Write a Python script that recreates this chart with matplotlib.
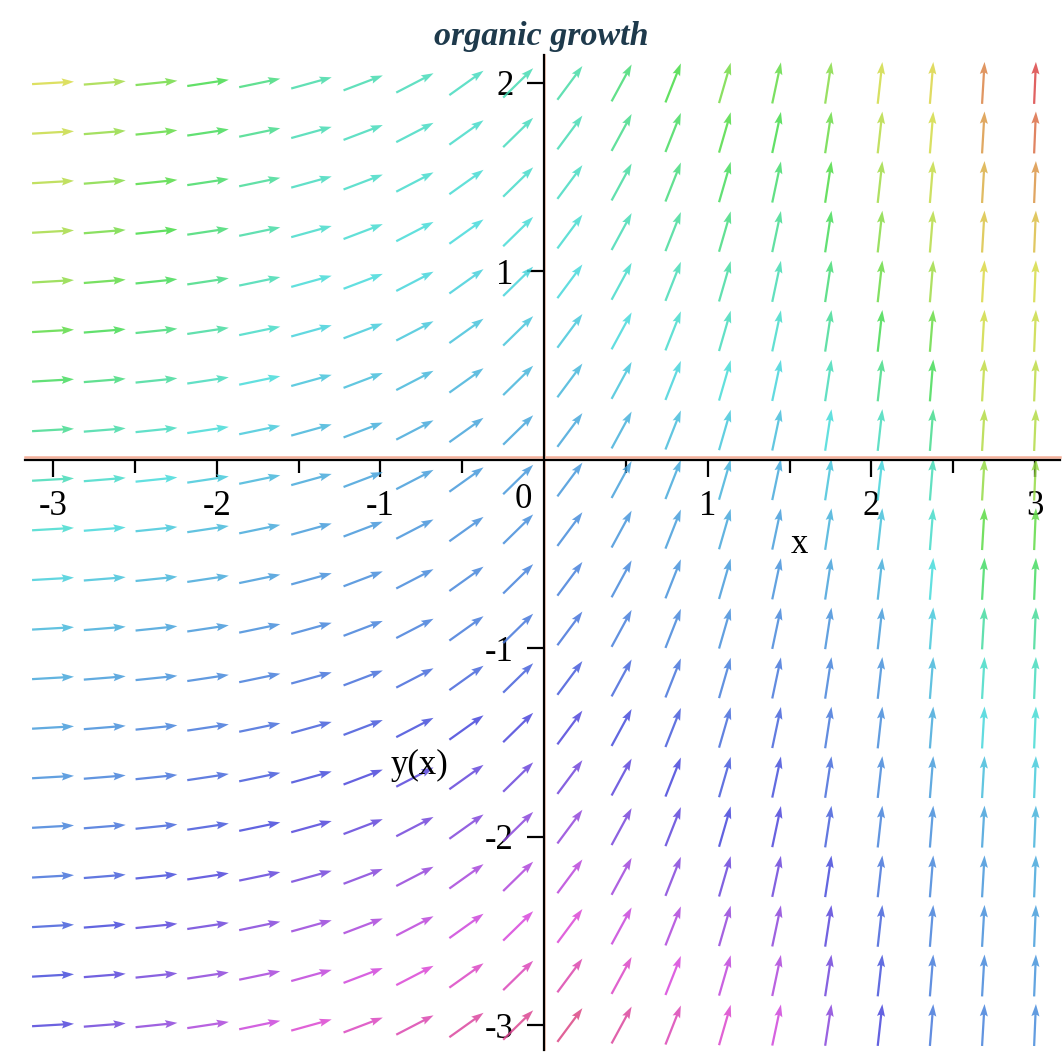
import numpy as np
import matplotlib
matplotlib.use('Agg')
from matplotlib import pyplot as plt
from matplotlib.colors import hsv_to_rgb

# direction field grid (20 x 20, as in the Maple plot)
x_vals = [-3.0, -2.684, -2.368, -2.053, -1.737, -1.421, -1.105, -0.789, -0.474, -0.158,
          0.158, 0.474, 0.789, 1.105, 1.421, 1.737, 2.053, 2.368, 2.684, 3.0]
y_vals = [-3.0, -2.737, -2.474, -2.211, -1.947, -1.684, -1.421, -1.158, -0.895, -0.632,
          -0.368, -0.105, 0.158, 0.421, 0.684, 0.947, 1.211, 1.474, 1.737, 2.0]
# slope dy/dx read per column (same for every row)
slopes = [0.05, 0.07, 0.09, 0.13, 0.18, 0.24, 0.33, 0.45, 0.62, 0.85,
          1.17, 1.6, 2.2, 3.0, 4.1, 5.7, 7.8, 10.7, 14.6, 20.1]

# hue read at a few anchor points (columns x rows y = 2, 1, 0, -1, -2, -3)
hue_cols = [-3.0, -1.5, -0.5, 0.16, 1.1, 1.42, 1.74, 2.05, 2.37, 2.68, 3.0]
hue_rows = [2, 1, 0, -1, -2, -3]
hue_table = [
    [0.17, 0.24, 0.45, 0.55, 0.60, 0.68],
    [0.44, 0.49, 0.55, 0.60, 0.68, 0.84],
    [0.47, 0.51, 0.57, 0.61, 0.74, 0.90],
    [0.44, 0.50, 0.57, 0.62, 0.76, 0.93],
    [0.28, 0.43, 0.54, 0.59, 0.67, 0.85],
    [0.30, 0.45, 0.55, 0.60, 0.68, 0.82],
    [0.26, 0.38, 0.52, 0.59, 0.64, 0.74],
    [0.18, 0.28, 0.50, 0.58, 0.60, 0.67],
    [0.16, 0.22, 0.45, 0.53, 0.59, 0.61],
    [0.07, 0.16, 0.22, 0.46, 0.57, 0.60],
    [0.00, 0.17, 0.22, 0.45, 0.55, 0.59],
]

x_ticks = [-3, -2, -1, 1, 2, 3]
y_ticks = [-3, -2, -1, 1, 2]

plt.rcParams['font.family'] = ['Liberation Serif', 'DejaVu Serif']
plt.rcParams['axes.unicode_minus'] = False

fig = plt.figure(figsize=(10.64, 10.61), dpi=100)
ax = fig.add_axes([0, 0, 1, 1])
xlim = (-3.324, 3.177)
ylim = (-3.191, 2.44)
ax.set_xlim(xlim)
ax.set_ylim(ylim)

px_x = 1064 / (xlim[1] - xlim[0])
px_y = 1061 / (ylim[1] - ylim[0])
arrow_px = 42

X, Y = np.meshgrid(x_vals, y_vals)
S = np.tile(np.array(slopes), (len(y_vals), 1))
# direction in screen pixels, fixed on-screen length
dxp = 1.0 * px_x
dyp = S * px_y
norm = np.sqrt(dxp ** 2 + dyp ** 2)
U = arrow_px * dxp / norm / px_x
V = arrow_px * dyp / norm / px_y

# colours: interpolate hue table
hue_arr = np.array(hue_table)
cols = []
for yy in y_vals:
    col_h = [np.interp(-yy, [-r for r in hue_rows], hue_arr[i]) for i in range(len(hue_cols))]
    for xx in x_vals:
        h = np.interp(xx, hue_cols, col_h) % 1.0
        cols.append(hsv_to_rgb([h, 0.68, 0.86]))

ax.quiver(X, Y, U, V, color=cols, angles='xy', scale_units='xy', scale=1,
          pivot='middle', width=0.0021, headwidth=3.6, headlength=5.5,
          headaxislength=4.8, alpha=0.85, zorder=2)

# axes through the origin
for side in ['top', 'right']:
    ax.spines[side].set_visible(False)
ax.spines['left'].set_position(('data', 0))
ax.spines['bottom'].set_position(('data', 0))
ax.spines['bottom'].set_bounds(-3.17, 3.15)
ax.spines['left'].set_bounds(-3.13, 2.15)
for side in ['left', 'bottom']:
    ax.spines[side].set_linewidth(1.6)
    ax.spines[side].set_zorder(4)
ax.plot([-3.17, 3.15], [0.016, 0.016], color='#f4b09a', lw=1.8, zorder=3)
ax.plot([0.008, 0.008], [-3.13, 2.15], color='#f6c4b2', lw=1.2, zorder=3)

ax.set_xticks(x_ticks)
ax.set_xticklabels([str(t) for t in x_ticks])
ax.set_xticks([-2.5, -1.5, -0.5, 0.5, 1.5, 2.5], minor=True)
ax.set_yticks(y_ticks)
ax.set_yticklabels([str(t) for t in y_ticks])
ax.tick_params(which='major', direction='out', length=12, width=1.6, labelsize=25, pad=10)
ax.tick_params(which='minor', direction='out', length=9, width=1.6)
ax.text(-0.128, -0.212, '0', fontsize=25, ha='center', va='center')

ax.text(1.56, -0.45, 'x', fontsize=25, ha='center', va='center')
ax.text(-0.76, -1.62, 'y(x)', fontsize=25, ha='center', va='center')
ax.text(-0.02, 2.245, 'organic growth', fontsize=24.5, fontweight='bold', fontstyle='italic',
        color='#1e3a4c', ha='center', va='center')

fig.savefig('out.png', dpi=100)
